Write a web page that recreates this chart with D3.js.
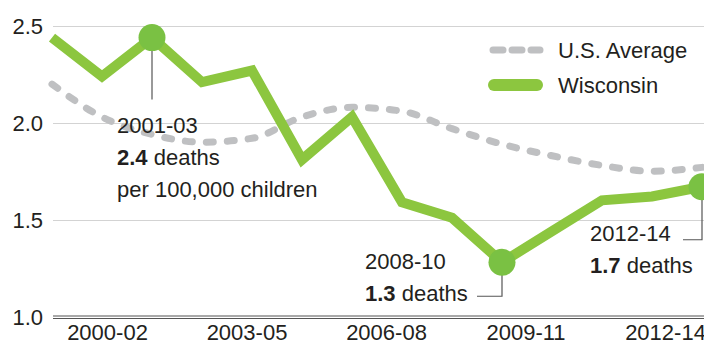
<!DOCTYPE html>
<html>
<head>
<meta charset="utf-8">
<script src="https://cdn.jsdelivr.net/npm/d3@7"></script>
<style>
  html, body { margin: 0; padding: 0; background: #fff; }
  svg { display: block; }
  text { font-family: "Liberation Sans", Arial, Helvetica, sans-serif; fill: #231f20; }
</style>
</head>
<body>
<svg id="chart" width="704" height="347"></svg>
<script>
// Three-year rolling periods
const periods = ["1999-01", "2000-02", "2001-03", "2002-04", "2003-05", "2004-06", "2005-07",
                 "2006-08", "2007-09", "2008-10", "2009-11", "2010-12", "2011-13", "2012-14"];

// Deaths per 100,000 children
const wisconsin = [2.44, 2.24, 2.44, 2.21, 2.27, 1.81, 2.03, 1.59, 1.51, 1.28, 1.44, 1.60, 1.62, 1.67];
const usAverage = [2.20, 2.03, 1.94, 1.90, 1.92, 2.03, 2.08, 2.06, 1.97, 1.89, 1.83, 1.78, 1.75, 1.77];

const yTicks = [1.0, 1.5, 2.0, 2.5];
const axisLabels = ["2000-02", "2003-05", "2006-08", "2009-11", "2012-14"];

// Callouts for highlighted periods
const callouts = [
  { period: "2001-03", lines: ["per 100,000 children"], textDx: -35, textDy: 95, leader: "down", leaderLen: 62 },
  { period: "2008-10", lines: [], textDx: -137, textDy: 7, leader: "left", drop: 34, run: 25 },
  { period: "2012-14", lines: [], textDx: -112, textDy: 54, leader: "left", drop: 53, run: 19 }
];

const svg = d3.select("#chart");
const W = 704;

const x = d3.scalePoint().domain(periods).range([52, 702]);
const y = d3.scaleLinear().domain([1.0, 2.5]).range([316.5, 26]);
const xAxis = d3.scalePoint().domain(axisLabels).range([107, 665]);

const green = "#8cc63f";
const greenDot = "#7ac143";
const gray = "#bfc0c2";
const fmt = d3.format(".1f");

// Horizontal gridlines
svg.append("g").selectAll("line")
  .data(yTicks.filter(d => d > 1.0))
  .join("line")
  .attr("x1", 53).attr("x2", W)
  .attr("y1", d => Math.round(y(d)) + 0.5).attr("y2", d => Math.round(y(d)) + 0.5)
  .attr("stroke", "#d3d3d3").attr("stroke-width", 1);

// Baseline (double rule)
const yb = Math.round(y(1.0));
[yb - 1, yb + 1.5].forEach(v => {
  svg.append("line").attr("x1", 53).attr("x2", W).attr("y1", v).attr("y2", v)
    .attr("stroke", "#555").attr("stroke-width", 1.2);
});

// Y axis labels
svg.append("g").selectAll("text")
  .data(yTicks)
  .join("text")
  .attr("x", 43).attr("y", d => y(d) + 8)
  .attr("text-anchor", "end")
  .attr("font-size", 22)
  .text(d => fmt(d));

// X axis labels
const gx = svg.append("g").attr("transform", "translate(0,324)")
  .call(d3.axisBottom(xAxis).tickSize(0).tickPadding(0));
gx.select(".domain").remove();
gx.selectAll("text")
  .attr("font-size", 22)
  .attr("dy", "0.71em")
  .attr("fill", "#231f20")
  .style("font-family", "\"Liberation Sans\", Arial, sans-serif");

// U.S. average (smooth dashed)
const usLine = d3.line().x((d, i) => x(periods[i])).y(d => y(d)).curve(d3.curveMonotoneX);
svg.append("path")
  .datum(usAverage)
  .attr("d", usLine)
  .attr("fill", "none")
  .attr("stroke", gray)
  .attr("stroke-width", 7)
  .attr("stroke-linecap", "round")
  .attr("stroke-dasharray", "7,14");

// Wisconsin
const wiLine = d3.line().x((d, i) => x(periods[i])).y(d => y(d));
svg.append("path")
  .datum(wisconsin)
  .attr("d", wiLine)
  .attr("fill", "none")
  .attr("stroke", green)
  .attr("stroke-width", 10)
  .attr("stroke-linejoin", "miter");

// Callouts: leader lines, dots and text
callouts.forEach(c => {
  const i = periods.indexOf(c.period);
  const px = x(c.period), py = y(wisconsin[i]);
  const g = svg.append("g");
  let path;
  if (c.leader === "down") {
    path = `M${px},${py}V${py + c.leaderLen}`;
  } else {
    path = `M${px},${py}V${py + c.drop}H${px - c.run}`;
  }
  g.append("path").attr("d", path).attr("fill", "none")
    .attr("stroke", "#555").attr("stroke-width", 1.2);
  g.append("circle").attr("cx", px).attr("cy", py).attr("r", 13.5).attr("fill", greenDot);

  const t = g.append("text").attr("font-size", 22)
    .attr("x", px + c.textDx).attr("y", py + c.textDy);
  t.append("tspan").attr("x", px + c.textDx).text(c.period);
  const l2 = t.append("tspan").attr("x", px + c.textDx).attr("dy", 32);
  l2.append("tspan").attr("font-weight", "bold").text(fmt(wisconsin[i]));
  l2.append("tspan").text(" deaths");
  c.lines.forEach(s => t.append("tspan").attr("x", px + c.textDx).attr("dy", 32).text(s));
});

// Legend
const legend = svg.append("g");
legend.append("line").attr("x1", 493).attr("x2", 540).attr("y1", 50).attr("y2", 50)
  .attr("stroke", gray).attr("stroke-width", 7).attr("stroke-linecap", "round")
  .attr("stroke-dasharray", "10,9");
legend.append("line").attr("x1", 494).attr("x2", 537).attr("y1", 85).attr("y2", 85)
  .attr("stroke", green).attr("stroke-width", 12).attr("stroke-linecap", "round");
legend.append("text").attr("x", 558).attr("y", 58).attr("font-size", 22).text("U.S. Average");
legend.append("text").attr("x", 558).attr("y", 93).attr("font-size", 22).text("Wisconsin");
</script>
</body>
</html>
